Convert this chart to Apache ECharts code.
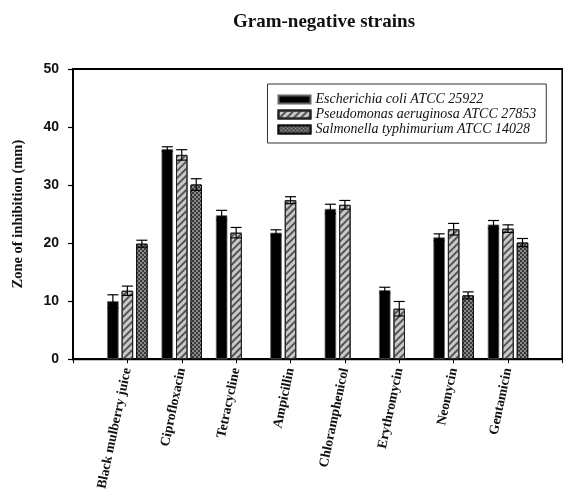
<!DOCTYPE html>
<html>
<head>
<meta charset="utf-8">
<script src="https://cdn.jsdelivr.net/npm/echarts@6/dist/echarts.min.js"></script>
<style>
html,body{margin:0;padding:0;background:#fff;}
#chart{width:563px;height:493px;}
</style>
</head>
<body>
<div id="chart"></div>
<script>
const categories = ['Black mulberry juice','Ciprofloxacin','Tetracycline','Ampicillin','Chloramphenicol','Erythromycin','Neomycin','Gentamicin'];
const seriesNames = ['Escherichia coli ATCC 25922','Pseudomonas aeruginosa ATCC 27853','Salmonella typhimurium ATCC 14028'];
const ecoli = [10.0, 36.2, 24.8, 21.8, 25.9, 11.9, 21.0, 23.2];
const ecoliErr = [1.1, 0.4, 0.85, 0.5, 0.8, 0.5, 0.6, 0.7];
const pseudo = [11.8, 35.2, 21.8, 27.4, 26.6, 8.7, 22.4, 22.5];
const pseudoErr = [0.8, 0.9, 0.9, 0.6, 0.75, 1.25, 1.0, 0.65];
const salmo = [19.9, 30.1, null, null, null, null, 11.0, 20.1];
const salmoErr = [0.6, 1.0, null, null, null, null, 0.6, 0.7];
const yTicks = [0, 10, 20, 30, 40, 50];

const BAR_W = 11.5;
const GAP = 0.26;
const CAP = 11;

// padded axis so the first/last categories sit one step in from the plot edges
const axisCats = [''].concat(categories, ['']);
const pad = arr => [null].concat(arr, [null]);

const styles = [
  {color: '#000', borderColor: '#666', borderWidth: 0.8},
  {color: '#c9c9c9', borderColor: '#222', borderWidth: 1,
   decal: {symbol: 'rect', color: '#555', dashArrayX: [1, 0], dashArrayY: [1.5, 2.2], rotation: -Math.PI / 4}},
  {color: '#3a3a3a', borderColor: '#111', borderWidth: 1,
   decal: {symbol: 'rect', color: '#8a8a8a', dashArrayX: [[2, 2], [0, 2, 2, 0]], dashArrayY: [2, 0]}}
];

const vals = [ecoli, pseudo, salmo];
const errs = [ecoliErr, pseudoErr, salmoErr];

const series = [];
vals.forEach((v, s) => {
  series.push({
    name: seriesNames[s],
    type: 'bar',
    data: pad(v),
    barWidth: BAR_W,
    barGap: (GAP * 100) + '%',
    itemStyle: styles[s],
    z: 2
  });
});
vals.forEach((v, s) => {
  const data = [];
  v.forEach((val, i) => { if (val != null) data.push([i + 1, val, errs[s][i]]); });
  series.push({
    type: 'custom',
    z: 5,
    silent: true,
    data: data,
    renderItem: (params, api) => {
      const x = api.value(0), val = api.value(1), e = api.value(2);
      const hi = api.coord([x, val + e]);
      const lo = api.coord([x, val - e]);
      const off = (s - 1) * (BAR_W * (1 + GAP));
      const cx = hi[0] + off;
      const st = {stroke: '#000', lineWidth: 1.2};
      return {type: 'group', children: [
        {type: 'line', shape: {x1: cx, y1: hi[1], x2: cx, y2: lo[1]}, style: st},
        {type: 'line', shape: {x1: cx - CAP / 2, y1: hi[1], x2: cx + CAP / 2, y2: hi[1]}, style: st},
        {type: 'line', shape: {x1: cx - CAP / 2, y1: lo[1], x2: cx + CAP / 2, y2: lo[1]}, style: st}
      ]};
    }
  });
});

const chart = echarts.init(document.getElementById('chart'), null, {renderer: 'canvas'});
chart.setOption({
  animation: false,
  backgroundColor: '#fff',
  title: {
    text: 'Gram-negative strains',
    left: 319, top: 8, textAlign: 'center',
    textStyle: {fontFamily: 'Liberation Serif', fontWeight: 'bold', fontSize: 19, color: '#111'}
  },
  legend: {
    orient: 'vertical',
    left: 267.5, top: 84,
    padding: [8, 10, 6, 10],
    itemGap: 0,
    icon: 'rect',
    itemWidth: 32, itemHeight: 8,
    borderColor: '#333', borderWidth: 1,
    data: seriesNames,
    textStyle: {fontFamily: 'Liberation Serif', fontStyle: 'italic', fontSize: 14, color: '#111', lineHeight: 15}
  },
  grid: {left: 73, right: -2, top: 69, bottom: 132, show: true, borderColor: '#000', borderWidth: 2, backgroundColor: 'transparent'},
  xAxis: {
    type: 'category',
    data: axisCats,
    boundaryGap: false,
    axisLine: {lineStyle: {color: '#000', width: 2}},
    axisTick: {length: 4, lineStyle: {color: '#000', width: 1}},
    axisLabel: {interval: 0, rotate: 78, margin: 9, fontFamily: 'Liberation Serif', fontWeight: 'bold', fontSize: 13.6, color: '#111'},
    splitLine: {show: false}
  },
  yAxis: {
    type: 'value',
    min: yTicks[0], max: yTicks[yTicks.length - 1], interval: 10,
    name: 'Zone of inhibition (mm)',
    nameLocation: 'middle',
    nameGap: 47,
    nameTextStyle: {fontFamily: 'Liberation Serif', fontWeight: 'bold', fontSize: 14.5, color: '#111'},
    axisLine: {show: true, lineStyle: {color: '#000', width: 2}},
    axisTick: {show: true, length: 5, lineStyle: {color: '#000', width: 1.2}},
    axisLabel: {margin: 14, fontFamily: 'Liberation Sans', fontWeight: 'bold', fontSize: 14, color: '#111'},
    splitLine: {show: false}
  },
  series: series
});
</script>
</body>
</html>
